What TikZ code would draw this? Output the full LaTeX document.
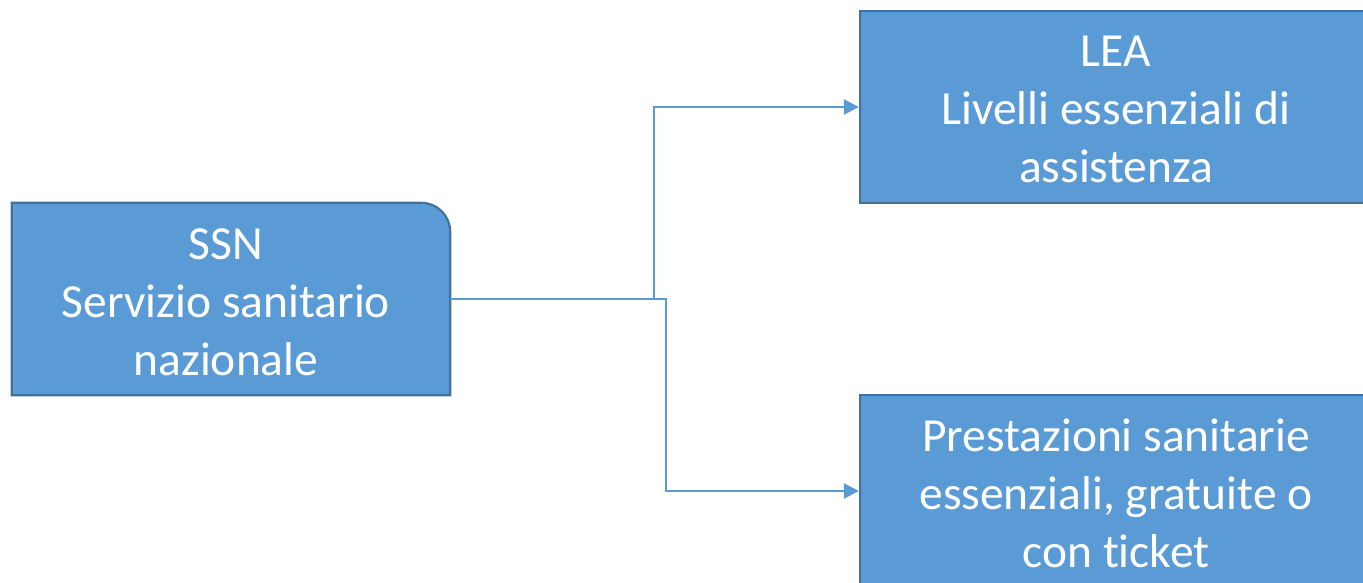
\documentclass[tikz,border=0pt]{standalone}
\usepackage{fontspec}
\setmainfont{Carlito}[RawFeature={-liga}]
\usetikzlibrary{arrows.meta}
\definecolor{boxfill}{HTML}{5B9BD5}
\definecolor{boxline}{HTML}{41719C}
\definecolor{linkcol}{HTML}{5B9BD5}
\tikzset{
  boxtext/.style={text=white, align=center, font=\fontsize{47.5}{58}\selectfont, inner sep=0pt},
  sqbox/.style={rectangle, fill=boxfill, draw=boxline, line width=2.2pt, minimum width=512pt, minimum height=192pt},
  link/.style={draw=linkcol, line width=2.4pt, -{Triangle[length=15pt,width=15pt]}}
}
\begin{document}
\begin{tikzpicture}[x=1pt,y=-1pt]
\useasboundingbox (0,0) rectangle (1363,583);
% SSN box with rounded top-right corner
\node[rectangle, minimum width=438pt, minimum height=192pt, inner sep=0pt] (ssn) at (231,299) {};
\path[fill=boxfill, draw=boxline, line width=2.2pt]
  (ssn.south west) -- (ssn.north west) -- ([xshift=-29pt]ssn.north east)
  arc[start angle=90, end angle=0, radius=29pt] -- (ssn.south east) -- cycle;
\node[boxtext] (ssntext) at (226,302) {SSN\\Servizio sanitario\\nazionale};
% right boxes
\node[sqbox] (lea) at (1116,107) {};
\node[boxtext] (leatext) at (1116,109) {LEA\\Livelli essenziali di\\assistenza};
\node[sqbox] (prest) at (1116,491) {};
\node[boxtext] (presttext) at (1116,493) {Prestazioni sanitarie\\essenziali, gratuite o\\con ticket};
% connectors
\coordinate (j1) at (654,299);
\coordinate (j2) at (666,299);
\draw[link] (ssn.east) -- (j1) |- (lea.west);
\draw[link] (ssn.east) -- (j2) |- (prest.west);
\end{tikzpicture}
\end{document}
